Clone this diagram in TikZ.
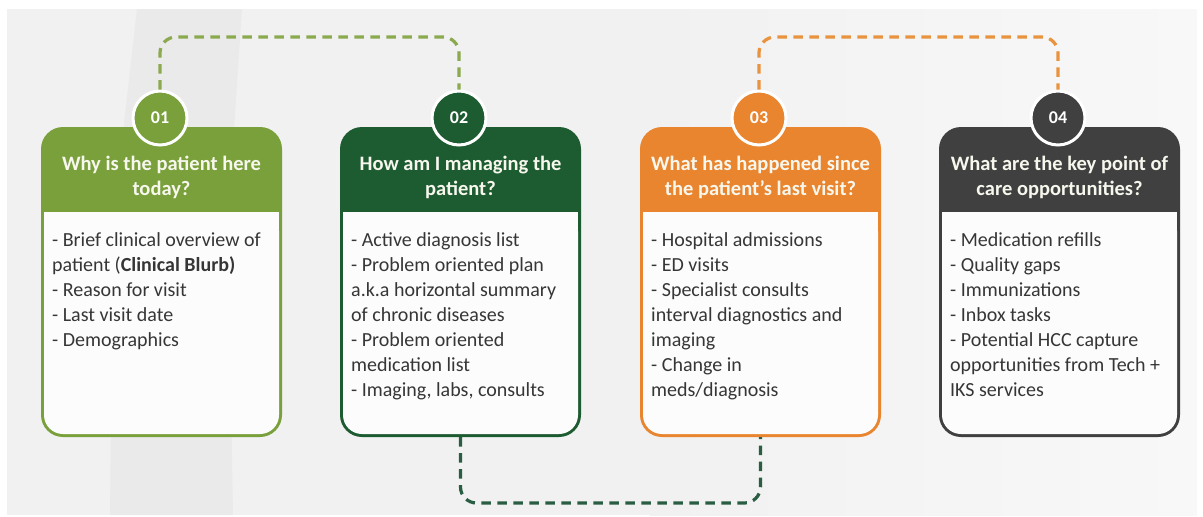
\documentclass[tikz,border=0pt]{standalone}
\usepackage{fontspec}
\setmainfont{Carlito}
\usetikzlibrary{calc}
\definecolor{bg}{HTML}{F1F1F1}
\definecolor{bgr}{HTML}{F8F8F8}
\definecolor{band}{HTML}{EAEAEA}
\definecolor{cgreen}{HTML}{79A03B}
\definecolor{cdark}{HTML}{1D5B31}
\definecolor{corange}{HTML}{E9852F}
\definecolor{cgray}{HTML}{404040}
\definecolor{txt}{HTML}{363636}
\definecolor{lgdash}{HTML}{8BA94E}
\definecolor{ordash}{HTML}{E9933F}
\definecolor{dgdash}{HTML}{2A5E42}
\definecolor{headtxt}{HTML}{F7F7EE}
\definecolor{bodyfill}{HTML}{FCFCFC}
\newcommand\mkcard[6]{%
  \fill[#3, rounded corners=22pt] (#2,127) rectangle ({#2+241},437);
  \fill[bodyfill, rounded corners=19pt] ({#2+3},212) rectangle ({#2+238},434);
  \fill[bodyfill] ({#2+3},212) rectangle ({#2+238},240);
  \node[cardbox] (k#1) at ({#2+120.5},282) {};
  \node[numcirc, fill=#3] (n#1) at ({#2+119},118) {#4};
  \node[headtext] (h#1) at ({#2+120.5},170) {\parbox[t]{238pt}{\centering #5}};
  \node[bodytext] (b#1) at ({#2+11},246) {\parbox[t]{228pt}{\raggedright #6}};
}
\tikzset{
  cardbox/.style={draw=none, minimum width=241pt, minimum height=310pt, inner sep=0pt, outer sep=0pt},
  numcirc/.style={circle, draw=white, line width=3pt, minimum size=54pt, inner sep=0pt, text=white,
    font=\bfseries\fontsize{18}{18}\selectfont},
  headtext/.style={anchor=base, inner sep=0pt, text=headtxt, font=\bfseries\fontsize{20.5}{25}\selectfont},
  bodytext/.style={anchor=base west, inner sep=0pt, text=txt, font=\fontsize{20}{25}\selectfont},
  conn/.style={line width=3.2pt, dash pattern=on 9.5pt off 6.5pt, rounded corners=16pt},
}
\begin{document}
\begin{tikzpicture}[x=1pt,y=-1pt]
\useasboundingbox (0,0) rectangle (1203,517);
\fill[white] (0,0) rectangle (1203,517);
\fill[bg] (7,9) rectangle (1197,515);
\shade[left color=bg, right color=bgr] (650,9) rectangle (1197,515);
\fill[band] (137,9) -- (242,9) -- (228,220) -- (233,515) -- (110,515) -- (113,220) -- cycle;

\mkcard{1}{41}{cgreen}{01}{Why is the patient here\\today?}{%
- Brief clinical overview of\\patient (\textbf{Clinical Blurb)}\\- Reason for visit\\- Last visit date\\- Demographics}
\mkcard{2}{340}{cdark}{02}{How am I managing the\\patient?}{%
- Active diagnosis list\\- Problem oriented plan\\a.k.a horizontal summary\\of chronic diseases\\- Problem oriented\\medication list\\- Imaging, labs, consults}
\mkcard{3}{640}{corange}{03}{What has happened since\\the patient’s last visit?}{%
- Hospital admissions\\- ED visits\\- Specialist consults\\interval diagnostics and\\imaging\\- Change in\\meds/diagnosis}
\mkcard{4}{939}{cgray}{04}{What are the key point of\\care opportunities?}{%
- Medication refills\\- Quality gaps\\- Immunizations\\- Inbox tasks\\- Potential HCC capture\\opportunities from Tech +\\IKS services}

\draw[conn, lgdash] (n1.north) -- (n1.north |- 0,37) -- (n2.north |- 0,37) -- (n2.north);
\draw[conn, ordash] (n3.north) -- (n3.north |- 0,37) -- (n4.north |- 0,37) -- (n4.north);
\draw[conn, dgdash] (k2.south) -- (k2.south |- 0,503) -- (k3.south |- 0,503) -- (k3.south);
\end{tikzpicture}
\end{document}
